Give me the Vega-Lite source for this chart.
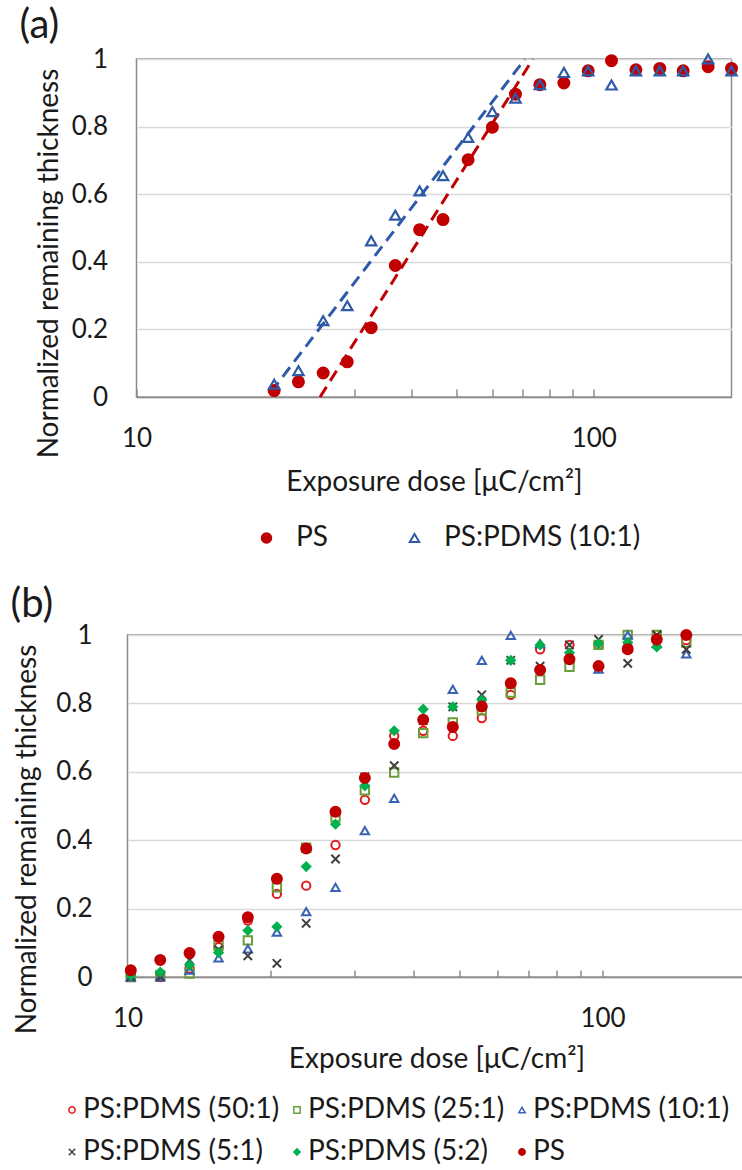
{
  "$schema": "https://vega.github.io/schema/vega-lite/v6.json",
  "padding": {"left": 2.5, "top": 5, "right": 0, "bottom": 0},
  "config": {
    "font": "Lato",
    "view": {"stroke": null},
    "axis": {
      "labelFont": "Lato", "titleFont": "Lato", "labelColor": "#1a1a1a", "titleColor": "#1a1a1a",
      "labelFontSize": 26, "titleFontSize": 28, "titleFontWeight": "normal",
      "domainColor": "#8c8c8c", "domainWidth": 1.5, "tickColor": "#8c8c8c", "tickWidth": 1.5,
      "gridColor": "#d9d9d9", "gridWidth": 1.5, "labelFlush": false, "labelOverlap": false
    },
    "legend": {"labelFont": "Lato", "labelColor": "#1a1a1a", "padding": 0, "labelLimit": 0},
    "title": {"font": "Lato", "color": "#1a1a1a", "fontWeight": "normal", "fontSize": 40}
  },
  "datasets": {
    "a": [
      {"series": "PS", "dose": 20, "thick": 0.019},
      {"series": "PS", "dose": 22.6, "thick": 0.045},
      {"series": "PS", "dose": 25.6, "thick": 0.071},
      {"series": "PS", "dose": 28.9, "thick": 0.104},
      {"series": "PS", "dose": 32.6, "thick": 0.205},
      {"series": "PS", "dose": 36.8, "thick": 0.389},
      {"series": "PS", "dose": 41.6, "thick": 0.495},
      {"series": "PS", "dose": 46.8, "thick": 0.525},
      {"series": "PS", "dose": 53.1, "thick": 0.702},
      {"series": "PS", "dose": 60, "thick": 0.798},
      {"series": "PS", "dose": 67.4, "thick": 0.896},
      {"series": "PS", "dose": 76.2, "thick": 0.924},
      {"series": "PS", "dose": 86, "thick": 0.929},
      {"series": "PS", "dose": 97.2, "thick": 0.965},
      {"series": "PS", "dose": 109.3, "thick": 0.995},
      {"series": "PS", "dose": 123.6, "thick": 0.968},
      {"series": "PS", "dose": 139.4, "thick": 0.972},
      {"series": "PS", "dose": 156.8, "thick": 0.965},
      {"series": "PS", "dose": 177.8, "thick": 0.977},
      {"series": "PS", "dose": 200, "thick": 0.972},
      {"series": "PS:PDMS (10:1)", "dose": 20, "thick": 0.038},
      {"series": "PS:PDMS (10:1)", "dose": 22.6, "thick": 0.078},
      {"series": "PS:PDMS (10:1)", "dose": 25.6, "thick": 0.226},
      {"series": "PS:PDMS (10:1)", "dose": 28.9, "thick": 0.27},
      {"series": "PS:PDMS (10:1)", "dose": 32.6, "thick": 0.462},
      {"series": "PS:PDMS (10:1)", "dose": 36.8, "thick": 0.538},
      {"series": "PS:PDMS (10:1)", "dose": 41.6, "thick": 0.61},
      {"series": "PS:PDMS (10:1)", "dose": 46.8, "thick": 0.655},
      {"series": "PS:PDMS (10:1)", "dose": 53.1, "thick": 0.768},
      {"series": "PS:PDMS (10:1)", "dose": 60, "thick": 0.844},
      {"series": "PS:PDMS (10:1)", "dose": 67.4, "thick": 0.884},
      {"series": "PS:PDMS (10:1)", "dose": 76.2, "thick": 0.924},
      {"series": "PS:PDMS (10:1)", "dose": 86, "thick": 0.96},
      {"series": "PS:PDMS (10:1)", "dose": 97.2, "thick": 0.965},
      {"series": "PS:PDMS (10:1)", "dose": 109.3, "thick": 0.923},
      {"series": "PS:PDMS (10:1)", "dose": 123.6, "thick": 0.965},
      {"series": "PS:PDMS (10:1)", "dose": 139.4, "thick": 0.965},
      {"series": "PS:PDMS (10:1)", "dose": 156.8, "thick": 0.965},
      {"series": "PS:PDMS (10:1)", "dose": 177.8, "thick": 1.0},
      {"series": "PS:PDMS (10:1)", "dose": 200, "thick": 0.965}
    ],
    "afit": [
      {"series": "PS", "dose": 25.2, "thick": 0},
      {"series": "PS", "dose": 73.6, "thick": 1},
      {"series": "PS:PDMS (10:1)", "dose": 19.7, "thick": 0.015},
      {"series": "PS:PDMS (10:1)", "dose": 70.7, "thick": 1}
    ],
    "b": [
      {"series": "PS:PDMS (50:1)", "dose": 10.16, "thick": 0},
      {"series": "PS:PDMS (50:1)", "dose": 11.72, "thick": 0},
      {"series": "PS:PDMS (50:1)", "dose": 13.51, "thick": 0.025},
      {"series": "PS:PDMS (50:1)", "dose": 15.55, "thick": 0.087},
      {"series": "PS:PDMS (50:1)", "dose": 17.92, "thick": 0.165},
      {"series": "PS:PDMS (50:1)", "dose": 20.63, "thick": 0.243},
      {"series": "PS:PDMS (50:1)", "dose": 23.78, "thick": 0.267},
      {"series": "PS:PDMS (50:1)", "dose": 27.41, "thick": 0.386},
      {"series": "PS:PDMS (50:1)", "dose": 31.6, "thick": 0.518},
      {"series": "PS:PDMS (50:1)", "dose": 36.43, "thick": 0.705},
      {"series": "PS:PDMS (50:1)", "dose": 41.93, "thick": 0.72},
      {"series": "PS:PDMS (50:1)", "dose": 48.4, "thick": 0.705},
      {"series": "PS:PDMS (50:1)", "dose": 55.7, "thick": 0.757},
      {"series": "PS:PDMS (50:1)", "dose": 64.1, "thick": 0.825},
      {"series": "PS:PDMS (50:1)", "dose": 73.9, "thick": 0.958},
      {"series": "PS:PDMS (50:1)", "dose": 85.2, "thick": 0.971},
      {"series": "PS:PDMS (50:1)", "dose": 98.1, "thick": 0.971},
      {"series": "PS:PDMS (50:1)", "dose": 113, "thick": 0.965},
      {"series": "PS:PDMS (50:1)", "dose": 130.1, "thick": 0.99},
      {"series": "PS:PDMS (50:1)", "dose": 150.1, "thick": 0.985},
      {"series": "PS:PDMS (25:1)", "dose": 10.16, "thick": 0},
      {"series": "PS:PDMS (25:1)", "dose": 11.72, "thick": 0.005},
      {"series": "PS:PDMS (25:1)", "dose": 13.51, "thick": 0.01},
      {"series": "PS:PDMS (25:1)", "dose": 15.55, "thick": 0.092},
      {"series": "PS:PDMS (25:1)", "dose": 17.92, "thick": 0.107},
      {"series": "PS:PDMS (25:1)", "dose": 20.63, "thick": 0.262},
      {"series": "PS:PDMS (25:1)", "dose": 23.78, "thick": 0.378},
      {"series": "PS:PDMS (25:1)", "dose": 27.41, "thick": 0.467},
      {"series": "PS:PDMS (25:1)", "dose": 31.6, "thick": 0.546},
      {"series": "PS:PDMS (25:1)", "dose": 36.43, "thick": 0.598},
      {"series": "PS:PDMS (25:1)", "dose": 41.93, "thick": 0.713},
      {"series": "PS:PDMS (25:1)", "dose": 48.4, "thick": 0.744},
      {"series": "PS:PDMS (25:1)", "dose": 55.7, "thick": 0.78},
      {"series": "PS:PDMS (25:1)", "dose": 64.1, "thick": 0.832},
      {"series": "PS:PDMS (25:1)", "dose": 73.9, "thick": 0.869},
      {"series": "PS:PDMS (25:1)", "dose": 85.2, "thick": 0.907},
      {"series": "PS:PDMS (25:1)", "dose": 98.1, "thick": 0.971},
      {"series": "PS:PDMS (25:1)", "dose": 113, "thick": 1.0},
      {"series": "PS:PDMS (25:1)", "dose": 130.1, "thick": 1.0},
      {"series": "PS:PDMS (25:1)", "dose": 150.1, "thick": 0.978},
      {"series": "PS:PDMS (10:1)", "dose": 10.16, "thick": 0},
      {"series": "PS:PDMS (10:1)", "dose": 11.72, "thick": 0},
      {"series": "PS:PDMS (10:1)", "dose": 13.51, "thick": 0.02},
      {"series": "PS:PDMS (10:1)", "dose": 15.55, "thick": 0.056},
      {"series": "PS:PDMS (10:1)", "dose": 17.92, "thick": 0.082},
      {"series": "PS:PDMS (10:1)", "dose": 20.63, "thick": 0.131},
      {"series": "PS:PDMS (10:1)", "dose": 23.78, "thick": 0.191},
      {"series": "PS:PDMS (10:1)", "dose": 27.41, "thick": 0.262},
      {"series": "PS:PDMS (10:1)", "dose": 31.6, "thick": 0.428},
      {"series": "PS:PDMS (10:1)", "dose": 36.43, "thick": 0.522},
      {"series": "PS:PDMS (10:1)", "dose": 48.4, "thick": 0.841},
      {"series": "PS:PDMS (10:1)", "dose": 55.7, "thick": 0.926},
      {"series": "PS:PDMS (10:1)", "dose": 64.1, "thick": 0.999},
      {"series": "PS:PDMS (10:1)", "dose": 73.9, "thick": 0.975},
      {"series": "PS:PDMS (10:1)", "dose": 98.1, "thick": 0.9},
      {"series": "PS:PDMS (10:1)", "dose": 113, "thick": 1.0},
      {"series": "PS:PDMS (10:1)", "dose": 130.1, "thick": 0.975},
      {"series": "PS:PDMS (10:1)", "dose": 150.1, "thick": 0.945},
      {"series": "PS:PDMS (5:1)", "dose": 10.16, "thick": 0},
      {"series": "PS:PDMS (5:1)", "dose": 11.72, "thick": 0},
      {"series": "PS:PDMS (5:1)", "dose": 13.51, "thick": 0.05},
      {"series": "PS:PDMS (5:1)", "dose": 15.55, "thick": 0.08},
      {"series": "PS:PDMS (5:1)", "dose": 17.92, "thick": 0.062},
      {"series": "PS:PDMS (5:1)", "dose": 20.63, "thick": 0.04},
      {"series": "PS:PDMS (5:1)", "dose": 23.78, "thick": 0.157},
      {"series": "PS:PDMS (5:1)", "dose": 27.41, "thick": 0.345},
      {"series": "PS:PDMS (5:1)", "dose": 31.6, "thick": 0.585},
      {"series": "PS:PDMS (5:1)", "dose": 36.43, "thick": 0.618},
      {"series": "PS:PDMS (5:1)", "dose": 41.93, "thick": 0.75},
      {"series": "PS:PDMS (5:1)", "dose": 48.4, "thick": 0.79},
      {"series": "PS:PDMS (5:1)", "dose": 55.7, "thick": 0.825},
      {"series": "PS:PDMS (5:1)", "dose": 64.1, "thick": 0.926},
      {"series": "PS:PDMS (5:1)", "dose": 73.9, "thick": 0.909},
      {"series": "PS:PDMS (5:1)", "dose": 85.2, "thick": 0.971},
      {"series": "PS:PDMS (5:1)", "dose": 98.1, "thick": 0.987},
      {"series": "PS:PDMS (5:1)", "dose": 113, "thick": 0.917},
      {"series": "PS:PDMS (5:1)", "dose": 130.1, "thick": 1.0},
      {"series": "PS:PDMS (5:1)", "dose": 150.1, "thick": 0.958},
      {"series": "PS:PDMS (5:2)", "dose": 10.16, "thick": 0.005},
      {"series": "PS:PDMS (5:2)", "dose": 11.72, "thick": 0.014},
      {"series": "PS:PDMS (5:2)", "dose": 13.51, "thick": 0.035},
      {"series": "PS:PDMS (5:2)", "dose": 15.55, "thick": 0.072},
      {"series": "PS:PDMS (5:2)", "dose": 17.92, "thick": 0.136},
      {"series": "PS:PDMS (5:2)", "dose": 20.63, "thick": 0.147},
      {"series": "PS:PDMS (5:2)", "dose": 23.78, "thick": 0.323},
      {"series": "PS:PDMS (5:2)", "dose": 27.41, "thick": 0.447},
      {"series": "PS:PDMS (5:2)", "dose": 31.6, "thick": 0.559},
      {"series": "PS:PDMS (5:2)", "dose": 36.43, "thick": 0.72},
      {"series": "PS:PDMS (5:2)", "dose": 41.93, "thick": 0.783},
      {"series": "PS:PDMS (5:2)", "dose": 48.4, "thick": 0.79},
      {"series": "PS:PDMS (5:2)", "dose": 55.7, "thick": 0.81},
      {"series": "PS:PDMS (5:2)", "dose": 64.1, "thick": 0.926},
      {"series": "PS:PDMS (5:2)", "dose": 73.9, "thick": 0.971},
      {"series": "PS:PDMS (5:2)", "dose": 85.2, "thick": 0.948},
      {"series": "PS:PDMS (5:2)", "dose": 98.1, "thick": 0.975},
      {"series": "PS:PDMS (5:2)", "dose": 113, "thick": 0.978},
      {"series": "PS:PDMS (5:2)", "dose": 130.1, "thick": 0.965},
      {"series": "PS", "dose": 10.16, "thick": 0.02},
      {"series": "PS", "dose": 11.72, "thick": 0.05},
      {"series": "PS", "dose": 13.51, "thick": 0.07},
      {"series": "PS", "dose": 15.55, "thick": 0.118},
      {"series": "PS", "dose": 17.92, "thick": 0.175},
      {"series": "PS", "dose": 20.63, "thick": 0.287},
      {"series": "PS", "dose": 23.78, "thick": 0.376},
      {"series": "PS", "dose": 27.41, "thick": 0.483},
      {"series": "PS", "dose": 31.6, "thick": 0.582},
      {"series": "PS", "dose": 36.43, "thick": 0.681},
      {"series": "PS", "dose": 41.93, "thick": 0.752},
      {"series": "PS", "dose": 48.4, "thick": 0.731},
      {"series": "PS", "dose": 55.7, "thick": 0.791},
      {"series": "PS", "dose": 64.1, "thick": 0.859},
      {"series": "PS", "dose": 73.9, "thick": 0.898},
      {"series": "PS", "dose": 85.2, "thick": 0.929},
      {"series": "PS", "dose": 98.1, "thick": 0.909},
      {"series": "PS", "dose": 113, "thick": 0.958},
      {"series": "PS", "dose": 130.1, "thick": 0.987},
      {"series": "PS", "dose": 150.1, "thick": 1.0}
    ]
  },
  "vconcat": [
    {
      "hconcat": [
        {"width": 13, "height": 10, "data": {"values": [{}]}, "mark": {"type": "point", "opacity": 0}, "encoding": {}},
        {
          "width": 595, "height": 338,
          "title": {"text": "(a)", "anchor": "start", "frame": "group", "dx": -117, "offset": -32, "baseline": "alphabetic"},
          "view": {"stroke": "#8c8c8c", "strokeWidth": 1.5},
          "encoding": {
            "x": {"field": "dose", "type": "quantitative", "scale": {"type": "log", "domain": [10, 200]},
              "axis": {"values": [10, 20, 30, 40, 50, 60, 70, 80, 90, 100], "labelExpr": "datum.value == 10 || datum.value == 100 ? datum.value + '' : ''", "tickSize": -8, "labelPadding": 36, "grid": false, "title": "Exposure dose [μC/cm²]", "titlePadding": 17}},
            "y": {"field": "thick", "type": "quantitative", "scale": {"domain": [0, 1]},
              "axis": {"values": [0, 0.2, 0.4, 0.6, 0.8, 1], "format": "~g", "ticks": false, "domain": false, "labelAlign": "right", "labelBaseline": "middle", "labelPadding": 29, "title": "Normalized remaining thickness", "titlePadding": 8, "titleY": 204}}
          },
          "layer": [
            {"data": {"name": "afit"}, "transform": [{"filter": "datum.series == 'PS'"}], "mark": {"type": "line", "color": "#c00000", "strokeWidth": 3, "strokeDash": [12, 7]}, "encoding": {}},
            {"data": {"name": "afit"}, "transform": [{"filter": "datum.series != 'PS'"}], "mark": {"type": "line", "color": "#2e5aa8", "strokeWidth": 3, "strokeDash": [12, 7]}, "encoding": {}},
            {"data": {"name": "a"}, "transform": [{"filter": "datum.series == 'PS'"}],
              "mark": {"type": "point", "size": 121, "strokeWidth": 2, "opacity": 1},
              "encoding": {
                "fill": {"field": "series", "type": "nominal", "scale": {"domain": ["PS", "PS:PDMS (10:1)"], "range": ["#c00000", "transparent"]},
                  "legend": {"orient": "none", "legendX": 247, "legendY": 465, "direction": "horizontal", "title": null, "labelFontSize": 28, "symbolSize": 90, "symbolStrokeWidth": 2, "labelOffset": 15.5, "columnPadding": 72}},
                "stroke": {"field": "series", "type": "nominal", "scale": {"domain": ["PS", "PS:PDMS (10:1)"], "range": ["#c00000", "#2e5aa8"]},
                  "legend": {"orient": "none", "legendX": 247, "legendY": 465, "direction": "horizontal", "title": null, "labelFontSize": 28, "symbolSize": 90, "symbolStrokeWidth": 2, "labelOffset": 15.5, "columnPadding": 72}},
                "shape": {"field": "series", "type": "nominal", "scale": {"domain": ["PS", "PS:PDMS (10:1)"], "range": ["circle", "triangle-up"]},
                  "legend": {"orient": "none", "legendX": 247, "legendY": 465, "direction": "horizontal", "title": null, "labelFontSize": 28, "symbolSize": 90, "symbolStrokeWidth": 2, "labelOffset": 15.5, "columnPadding": 72}}
              }},
            {"data": {"name": "a"}, "transform": [{"filter": "datum.series != 'PS'"}],
              "mark": {"type": "point", "size": 106, "strokeWidth": 2.2, "opacity": 1},
              "encoding": {
                "fill": {"field": "series", "type": "nominal"},
                "stroke": {"field": "series", "type": "nominal"},
                "shape": {"field": "series", "type": "nominal"}
              }}
          ]
        }
      ],
      "spacing": 0,
      "align": "none"
    },
    {
      "hconcat": [
        {"width": 1, "height": 10, "data": {"values": [{}]}, "mark": {"type": "point", "opacity": 0}, "encoding": {}},
        {
          "width": 618, "height": 342,
          "title": {"text": "(b)", "anchor": "start", "frame": "group", "dx": -117, "offset": -34.5, "baseline": "alphabetic"},
          "view": {"stroke": "#8c8c8c", "strokeWidth": 1.5},
          "encoding": {
            "x": {"field": "dose", "type": "quantitative", "scale": {"type": "log", "domain": [10, 200]},
              "axis": {"values": [10, 20, 30, 40, 50, 60, 70, 80, 90, 100], "labelExpr": "datum.value == 10 || datum.value == 100 ? datum.value + '' : ''", "tickSize": -7, "labelPadding": 35.5, "grid": false, "title": "Exposure dose [μC/cm²]", "titlePadding": 13.5}},
            "y": {"field": "thick", "type": "quantitative", "scale": {"domain": [0, 1]},
              "axis": {"values": [0, 0.2, 0.4, 0.6, 0.8, 1], "format": "~g", "ticks": false, "domain": false, "labelAlign": "right", "labelBaseline": "middle", "labelPadding": 35.5, "title": "Normalized remaining thickness", "titlePadding": 14, "titleY": 204}},
            "fill": {"field": "series", "type": "nominal",
              "scale": {"domain": ["PS:PDMS (50:1)", "PS:PDMS (25:1)", "PS:PDMS (10:1)", "PS:PDMS (5:1)", "PS:PDMS (5:2)", "PS"], "range": ["transparent", "transparent", "transparent", "transparent", "#00b050", "#c00000"]},
              "legend": {"orient": "none", "legendX": 52.5, "legendY": 461, "columns": 3, "direction": "horizontal", "title": null, "labelFontSize": 28, "symbolSize": 40, "symbolStrokeWidth": 1.5, "labelOffset": -3, "columnPadding": 3, "rowPadding": 14}},
            "stroke": {"field": "series", "type": "nominal",
              "scale": {"domain": ["PS:PDMS (50:1)", "PS:PDMS (25:1)", "PS:PDMS (10:1)", "PS:PDMS (5:1)", "PS:PDMS (5:2)", "PS"], "range": ["#e31a1c", "#6a9e3a", "#3a62b4", "#404040", "#00b050", "#c00000"]},
              "legend": {"orient": "none", "legendX": 52.5, "legendY": 461, "columns": 3, "direction": "horizontal", "title": null, "labelFontSize": 28, "symbolSize": 40, "symbolStrokeWidth": 1.5, "labelOffset": -3, "columnPadding": 3, "rowPadding": 14}},
            "shape": {"field": "series", "type": "nominal",
              "scale": {"domain": ["PS:PDMS (50:1)", "PS:PDMS (25:1)", "PS:PDMS (10:1)", "PS:PDMS (5:1)", "PS:PDMS (5:2)", "PS"], "range": ["circle", "square", "triangle-up", "M-1,-1L1,1M-1,1L1,-1", "diamond", "circle"]},
              "legend": {"orient": "none", "legendX": 52.5, "legendY": 461, "columns": 3, "direction": "horizontal", "title": null, "labelFontSize": 28, "symbolSize": 40, "symbolStrokeWidth": 1.5, "labelOffset": -3, "columnPadding": 3, "rowPadding": 14}}
          },
          "layer": [
            {"data": {"name": "b"}, "transform": [{"filter": "datum.series != 'PS'"}], "mark": {"type": "point", "size": 70, "strokeWidth": 2, "opacity": 1}},
            {"data": {"name": "b"}, "transform": [{"filter": "datum.series == 'PS'"}], "mark": {"type": "point", "size": 100, "strokeWidth": 2, "opacity": 1}}
          ]
        }
      ],
      "spacing": 0,
      "align": "none"
    }
  ],
  "spacing": 31,
  "align": "none",
  "resolve": {
    "scale": {"fill": "independent", "stroke": "independent", "shape": "independent"},
    "legend": {"fill": "independent", "stroke": "independent", "shape": "independent"}
  }
}
